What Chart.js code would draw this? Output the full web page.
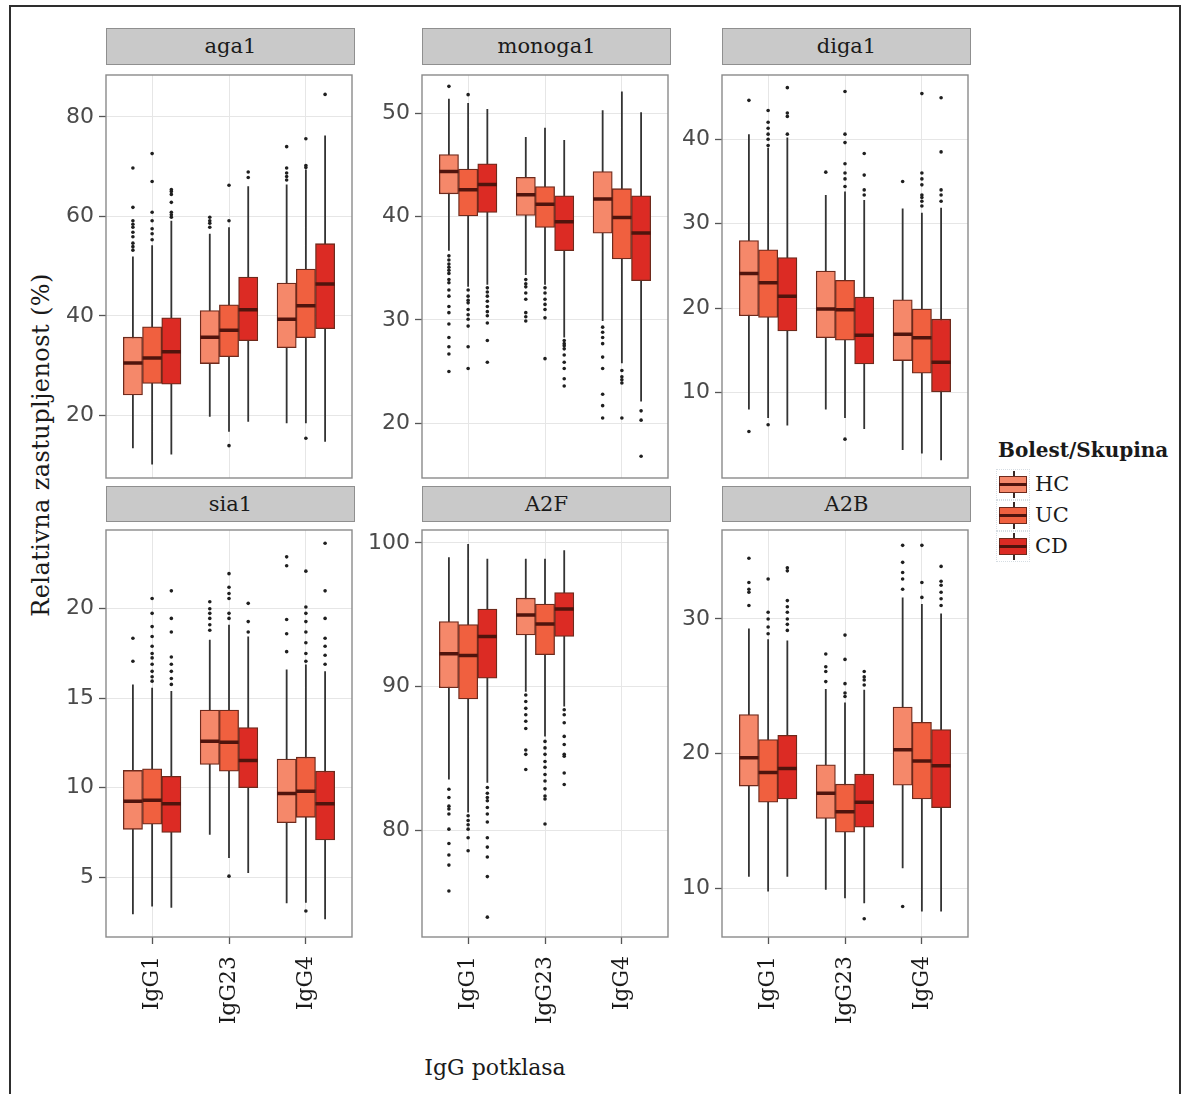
<!DOCTYPE html>
<html>
<head>
<meta charset="utf-8">
<script src="https://cdn.jsdelivr.net/npm/chart.js@4.4.1/dist/chart.umd.min.js"></script>
<style>
  html, body { margin: 0; padding: 0; background: #fff; }
  body { width: 1182px; height: 1094px; position: relative; overflow: hidden; font-family: 'DejaVu Serif', serif; }
  .frame { position: absolute; left: 9px; top: 5px; width: 1172px; height: 1100px; border: 2px solid #2e2e2e; box-sizing: border-box; }
  .strip { position: absolute; background: #c9c9c9; border: 1px solid #8f8f8f; box-sizing: border-box; text-align: center; color: #1a1a1a; font: 21px 'DejaVu Serif', serif; }
  canvas { position: absolute; }
  #ytitle { position: absolute; left: 41px; top: 445px; transform: translate(-50%, -50%) rotate(-90deg); white-space: nowrap; font: 24px 'DejaVu Serif', serif; letter-spacing: 0.4px; color: #1a1a1a; }
  #xtitle { position: absolute; left: 495px; top: 1067px; transform: translate(-50%, -50%); white-space: nowrap; font: 22px 'DejaVu Serif', serif; color: #1a1a1a; }
  #ltitle { position: absolute; left: 998px; top: 440px; font: bold 20px 'DejaVu Serif', serif; line-height: 20px; color: #1a1a1a; white-space: nowrap; }
  .lkey { position: absolute; left: 996px; width: 34px; height: 31px; box-sizing: border-box; border: 1px dotted #d6dde3; }
  .lkey .wh { position: absolute; left: 16px; top: 1px; width: 2px; height: 27px; background: #3a2a26; }
  .lkey .bx { position: absolute; left: 2px; top: 6px; width: 28px; height: 17px; box-sizing: border-box; border: 1.3px solid #6e2a1c; }
  .lkey .md { position: absolute; left: 2px; top: 13px; width: 28px; height: 3px; background: #50140d; }
  .llab { position: absolute; left: 1035px; height: 31px; font: 21px 'DejaVu Serif', serif; line-height: 31px; color: #1a1a1a; }
</style>
</head>
<body>
<div class="frame"></div>
<div id="ytitle">Relativna zastupljenost (%)</div>
<div id="xtitle">IgG potklasa</div>
<div id="legend"></div>
<script>
// ---------------- data ----------------
const categories = ['IgG1', 'IgG23', 'IgG4'];
const groups = ['HC', 'UC', 'CD'];
const panelNames = ['aga1', 'monoga1', 'diga1', 'sia1', 'A2F', 'A2B'];

// box statistics per subclass: [lower whisker, Q1, median, Q3, upper whisker]
const aga1HC = [[13.4, 24.1, 30.5, 35.7, 51.9], [19.7, 30.4, 35.7, 41.05, 56.5], [18.4, 33.6, 39.3, 46.6, 66.4]];
const aga1UC = [[10.1, 26.4, 31.5, 37.8, 54.2], [16.7, 31.8, 37.1, 42.2, 57.8], [18.4, 35.6, 42.0, 49.4, 69.4]];
const aga1CD = [[12.1, 26.25, 32.8, 39.6, 59.1], [18.7, 35.0, 41.2, 47.8, 66.05], [14.7, 37.4, 46.4, 54.5, 76.25]];
const aga1HCOut = [[53.2, 53.9, 54.6, 55.9, 56.8, 57.8, 58.4, 59.1, 61.8, 69.7], [57.8, 58.6, 59.1, 59.8], [67.3, 68.0, 68.7, 69.7, 74.0]];
const aga1UCOut = [[55.3, 56.5, 57.5, 59.1, 60.8, 67.0, 72.6], [59.1, 66.25, 13.9], [69.8, 70.2, 75.6, 15.4]];
const aga1CDOut = [[59.8, 60.3, 60.8, 62.8, 64.4, 65.0, 65.4], [67.8, 68.9], [84.5]];

const monoga1HC = [[36.7, 42.2, 44.35, 46.0, 51.4], [34.35, 40.1, 42.1, 43.8, 47.7], [29.9, 38.4, 41.7, 44.35, 50.3]];
const monoga1UC = [[33.2, 40.06, 42.6, 44.6, 51.0], [33.4, 38.95, 41.2, 42.9, 48.6], [25.8, 35.9, 39.9, 42.7, 52.1]];
const monoga1CD = [[33.4, 40.4, 43.1, 45.1, 50.4], [28.3, 36.7, 39.5, 42.0, 47.4], [22.1, 33.8, 38.4, 42.0, 50.1]];
const monoga1HCOut = [[52.6, 36.2, 35.8, 35.4, 35.1, 34.8, 34.5, 33.9, 33.6, 32.9, 32.3, 31.3, 30.7, 29.6, 28.3, 27.4, 26.7, 25.0],
                      [33.9, 33.5, 33.2, 32.6, 32.0, 30.7, 30.3, 29.9],
                      [29.3, 28.8, 28.3, 27.7, 26.4, 25.3, 22.8, 21.7, 20.5]];
const monoga1UCOut = [[51.8, 32.9, 32.3, 31.9, 31.65, 31.0, 30.5, 30.06, 29.4, 27.4, 25.3],
                      [33.1, 32.6, 32.0, 31.5, 31.0, 30.2, 26.25],
                      [25.1, 24.5, 24.2, 23.9, 20.5]];
const monoga1CDOut = [[33.1, 32.7, 32.3, 31.8, 31.3, 30.8, 30.4, 29.7, 28.0, 25.9],
                      [28.0, 27.7, 27.5, 27.2, 26.6, 25.9, 25.3, 24.3, 23.6],
                      [21.2, 20.3, 16.8]];

const diga1HC = [[8.0, 19.1, 24.1, 28.0, 40.6], [8.0, 16.5, 19.9, 24.4, 33.4], [3.2, 13.8, 16.9, 21.0, 31.8]];
const diga1UC = [[7.0, 18.9, 23.0, 26.9, 39.0], [7.0, 16.2, 19.8, 23.3, 33.8], [2.8, 12.3, 16.5, 19.9, 31.3]];
const diga1CD = [[6.1, 17.3, 21.4, 26.0, 40.2], [5.7, 13.4, 16.8, 21.3, 32.8], [2.0, 10.1, 13.6, 18.7, 31.9]];
const diga1HCOut = [[44.6, 5.4], [36.1], [35.0]];
const diga1UCOut = [[39.25, 40.0, 40.6, 41.3, 42.0, 43.4, 6.2], [34.4, 35.3, 36.0, 37.1, 39.6, 40.6, 45.65, 4.5], [32.1, 32.65, 33.1, 33.4, 34.6, 35.3, 36.0, 45.4]];
const diga1CDOut = [[40.6, 42.7, 43.1, 46.1], [33.4, 34.0, 35.75, 38.3], [32.65, 33.4, 34.0, 38.5, 44.9]];

const sia1HC = [[2.92, 7.67, 9.24, 10.96, 15.77], [7.36, 11.29, 12.59, 14.33, 18.26], [3.53, 8.04, 9.67, 11.6, 16.6]];
const sia1UC = [[3.35, 7.95, 9.3, 11.05, 15.58], [6.06, 10.92, 12.53, 14.33, 19.1], [3.57, 8.34, 9.8, 11.7, 16.88]];
const sia1CD = [[3.29, 7.49, 9.1, 10.63, 15.4], [5.23, 10.0, 11.52, 13.36, 18.45], [2.64, 7.08, 9.1, 10.92, 16.5]];
const sia1HCOut = [[17.06, 18.35], [18.8, 19.1, 19.46, 19.74, 20.0, 20.39], [17.6, 18.6, 19.4, 22.4, 22.9]];
const sia1UCOut = [[15.95, 16.2, 16.5, 16.9, 17.25, 17.5, 17.9, 18.45, 19.0, 19.74, 20.57], [19.46, 19.74, 20.57, 20.85, 21.2, 21.96, 5.05], [17.06, 17.5, 18.1, 18.7, 19.28, 19.74, 20.1, 22.1, 3.1]];
const sia1CDOut = [[15.77, 16.1, 16.5, 16.9, 17.3, 18.7, 19.46, 21.0], [18.7, 19.28, 20.3], [16.9, 17.4, 17.9, 18.35, 19.46, 21.0, 23.66]];

const A2FHC = [[83.56, 89.93, 92.3, 94.53, 99.0], [89.66, 93.6, 94.99, 96.16, 98.9], null];
const A2FUC = [[81.26, 89.15, 92.18, 94.32, 99.93], [86.55, 92.23, 94.37, 95.75, 98.9], null];
const A2FCD = [[83.33, 90.6, 93.5, 95.4, 98.9], [88.62, 93.5, 95.4, 96.55, 99.5], null];
const A2FHCOut = [[82.87, 82.3, 81.7, 81.5, 81.15, 80.1, 79.1, 78.3, 77.6, 75.8], [89.43, 88.97, 88.5, 88.05, 87.6, 87.1, 85.6, 85.3, 84.25], []];
const A2FUCOut = [[81.03, 80.7, 80.4, 80.1, 79.5, 78.6], [86.2, 85.75, 85.3, 84.8, 84.4, 83.9, 83.45, 82.9, 82.4, 82.2, 80.46], []];
const A2FCDOut = [[82.99, 82.6, 82.3, 82.07, 81.6, 81.15, 80.6, 79.5, 78.85, 78.16, 76.8, 73.98], [88.4, 88.05, 87.5, 86.55, 85.98, 85.3, 85.17, 84.0, 83.2], []];

const A2BHC = [[10.87, 17.6, 19.7, 22.9, 29.3], [9.9, 15.2, 17.06, 19.17, 24.8], [11.5, 17.67, 20.3, 23.46, 31.6]];
const A2BUC = [[9.77, 16.4, 18.6, 21.05, 28.5], [9.28, 14.18, 15.7, 17.74, 23.8], [8.3, 16.64, 19.46, 22.33, 31.1]];
const A2BCD = [[10.87, 16.64, 18.9, 21.37, 28.4], [8.9, 14.55, 16.4, 18.48, 24.74], [8.3, 16.0, 19.1, 21.8, 30.4]];
const A2BHCOut = [[31.0, 31.98, 32.2, 32.7, 34.5], [25.35, 26.1, 26.45, 27.4], [32.2, 32.96, 33.45, 34.2, 35.46, 8.66]];
const A2BUCOut = [[28.9, 29.4, 30.0, 30.5, 32.96], [24.25, 24.5, 25.2, 27.0, 28.8], [31.6, 32.7, 35.46]];
const A2BCDOut = [[29.15, 29.6, 30.0, 30.5, 30.9, 31.36, 33.57, 33.8], [25.1, 25.47, 25.7, 26.1, 7.75], [31.0, 31.5, 31.98, 32.5, 32.8, 33.9]];

// y tick labels and axis extents per panel
const aga1Ticks = [20, 40, 60, 80];       const aga1Range = [7.4, 88.4];
const monoga1Ticks = [20, 30, 40, 50];    const monoga1Range = [14.7, 53.7];
const diga1Ticks = [10, 20, 30, 40];      const diga1Range = [-0.1, 47.6];
const sia1Ticks = [5, 10, 15, 20];        const sia1Range = [1.65, 24.4];
const A2FTicks = [80, 90, 100];           const A2FRange = [72.6, 100.9];
const A2BTicks = [10, 20, 30];            const A2BRange = [6.4, 36.6];

// ---------------- styling / layout ----------------
const fills = ['#f5886a', '#f0603f', '#dc2b24'];
const edgeColor = '#6e2a1c';
const medianColor = '#50140d';
const colLeft = [106, 422, 722];
const rowTop = [72, 527];
const stripTop = [28, 486];
const stripH = [37, 36];
const PW = 249, PH = 410, AXW = 60, XH = 110;
const dodge = [-0.25, 0, 0.25];
const halfBox = 0.125;

const panels = [
  { name: 'aga1', stats: [aga1HC, aga1UC, aga1CD], outs: [aga1HCOut, aga1UCOut, aga1CDOut], ticks: aga1Ticks, range: aga1Range },
  { name: 'monoga1', stats: [monoga1HC, monoga1UC, monoga1CD], outs: [monoga1HCOut, monoga1UCOut, monoga1CDOut], ticks: monoga1Ticks, range: monoga1Range },
  { name: 'diga1', stats: [diga1HC, diga1UC, diga1CD], outs: [diga1HCOut, diga1UCOut, diga1CDOut], ticks: diga1Ticks, range: diga1Range },
  { name: 'sia1', stats: [sia1HC, sia1UC, sia1CD], outs: [sia1HCOut, sia1UCOut, sia1CDOut], ticks: sia1Ticks, range: sia1Range },
  { name: 'A2F', stats: [A2FHC, A2FUC, A2FCD], outs: [A2FHCOut, A2FUCOut, A2FCDOut], ticks: A2FTicks, range: A2FRange },
  { name: 'A2B', stats: [A2BHC, A2BUC, A2BCD], outs: [A2BHCOut, A2BUCOut, A2BCDOut], ticks: A2BTicks, range: A2BRange }
];

function buildDatasets(p) {
  const ds = [];
  groups.forEach((g, gi) => {
    const boxes = [], whisk = [], meds = [], pts = [];
    p.stats[gi].forEach((s, ci) => {
      if (!s) return;
      const x = ci + 1 + dodge[gi];
      boxes.push({ x: x, y: [s[1], s[3]] });
      whisk.push({ x: x, y: s[0] }, { x: x, y: s[4] }, { x: x, y: null });
      meds.push({ x: x - halfBox, y: s[2] }, { x: x + halfBox, y: s[2] }, { x: x, y: null });
      (p.outs[gi][ci] || []).forEach(v => pts.push({ x: x, y: v }));
    });
    ds.push({ type: 'bar', label: g, data: boxes, backgroundColor: fills[gi], borderColor: edgeColor,
      borderWidth: 1.3, borderSkipped: false, grouped: false, barPercentage: 1, categoryPercentage: 1, order: 3 });
    ds.push({ type: 'line', label: g + ' whiskers', data: whisk, borderColor: '#333333', borderWidth: 1.8,
      pointRadius: 0, spanGaps: false, tension: 0, fill: false, order: 4 });
    ds.push({ type: 'line', label: g + ' median', data: meds, borderColor: medianColor, borderWidth: 3.5,
      pointRadius: 0, spanGaps: false, tension: 0, fill: false, borderCapStyle: 'butt', order: 2 });
    ds.push({ type: 'scatter', label: g + ' outliers', data: pts, pointRadius: 1.8, pointBackgroundColor: '#1f1f1f',
      pointBorderWidth: 0, backgroundColor: '#1f1f1f', borderWidth: 0, order: 1 });
  });
  return ds;
}

const panelBorder = {
  id: 'panelBorder',
  afterDraw(chart) {
    const { ctx, chartArea: a } = chart;
    ctx.save();
    ctx.strokeStyle = '#8a8a8a';
    ctx.lineWidth = 1.4;
    ctx.strokeRect(a.left, a.top, a.right - a.left, a.bottom - a.top);
    ctx.restore();
  }
};

function zeroPad(s) { s.paddingLeft = 0; s.paddingRight = 0; s.paddingTop = 0; s.paddingBottom = 0; }

panels.forEach((p, i) => {
  const col = i % 3, row = Math.floor(i / 3);
  const bottomRow = row === 1;
  const xh = bottomRow ? XH : 0;

  const strip = document.createElement('div');
  strip.className = 'strip';
  strip.style.left = colLeft[col] + 'px';
  strip.style.top = stripTop[row] + 'px';
  strip.style.width = PW + 'px';
  strip.style.height = stripH[row] + 'px';
  strip.style.lineHeight = (stripH[row] - 2) + 'px';
  strip.textContent = p.name;
  document.body.appendChild(strip);

  const cv = document.createElement('canvas');
  const w = AXW + PW + 1, h = PH + 1 + xh;
  cv.width = w; cv.height = h;
  cv.style.width = w + 'px'; cv.style.height = h + 'px';
  cv.style.left = (colLeft[col] - AXW) + 'px';
  cv.style.top = (rowTop[row] - 1) + 'px';
  document.body.appendChild(cv);

  new Chart(cv.getContext('2d'), {
    type: 'bar',
    data: { datasets: buildDatasets(p) },
    options: {
      responsive: false,
      animation: false,
      events: [],
      layout: { padding: { top: 1, right: 1, left: 0, bottom: 0 } },
      plugins: { legend: { display: false }, tooltip: { enabled: false }, title: { display: false } },
      scales: {
        x: {
          type: 'linear', min: 0.4, max: 3.6, offset: false,
          afterBuildTicks: s => { s.ticks = categories.map((c, k) => ({ value: k + 1 })); },
          afterFit: s => { s.height = xh; zeroPad(s); },
          ticks: {
            display: bottomRow, autoSkip: false, minRotation: 90, maxRotation: 90, padding: 12,
            callback: v => categories[Math.round(v) - 1],
            color: '#1a1a1a', font: { family: 'DejaVu Serif', size: 22 }
          },
          grid: { offset: false, color: '#e6e6e6', lineWidth: 1, drawTicks: bottomRow, tickLength: 7, tickColor: '#555555', tickWidth: 1.3 },
          border: { display: false }
        },
        y: {
          type: 'linear', min: p.range[0], max: p.range[1],
          afterBuildTicks: s => { s.ticks = p.ticks.map(v => ({ value: v })); },
          afterFit: s => { s.width = AXW; zeroPad(s); },
          ticks: { color: '#4a4a4a', padding: 5, font: { family: 'DejaVu Sans', size: 22 } },
          grid: { offset: false, color: '#e6e6e6', lineWidth: 1, drawTicks: true, tickLength: 7, tickColor: '#555555', tickWidth: 1.3 },
          border: { display: false }
        }
      }
    },
    plugins: [panelBorder]
  });
});

// ---------------- legend ----------------
const legend = document.getElementById('legend');
const lt = document.createElement('div');
lt.id = 'ltitle';
lt.textContent = 'Bolest/Skupina';
legend.appendChild(lt);
const keyTops = [469, 500, 531];
groups.forEach((g, gi) => {
  const k = document.createElement('div');
  k.className = 'lkey';
  k.style.top = keyTops[gi] + 'px';
  k.innerHTML = '<div class="wh"></div><div class="bx"></div><div class="md"></div>';
  k.querySelector('.bx').style.background = fills[gi];
  legend.appendChild(k);
  const lab = document.createElement('div');
  lab.className = 'llab';
  lab.style.top = keyTops[gi] + 'px';
  lab.textContent = g;
  legend.appendChild(lab);
});
</script>
</body>
</html>
